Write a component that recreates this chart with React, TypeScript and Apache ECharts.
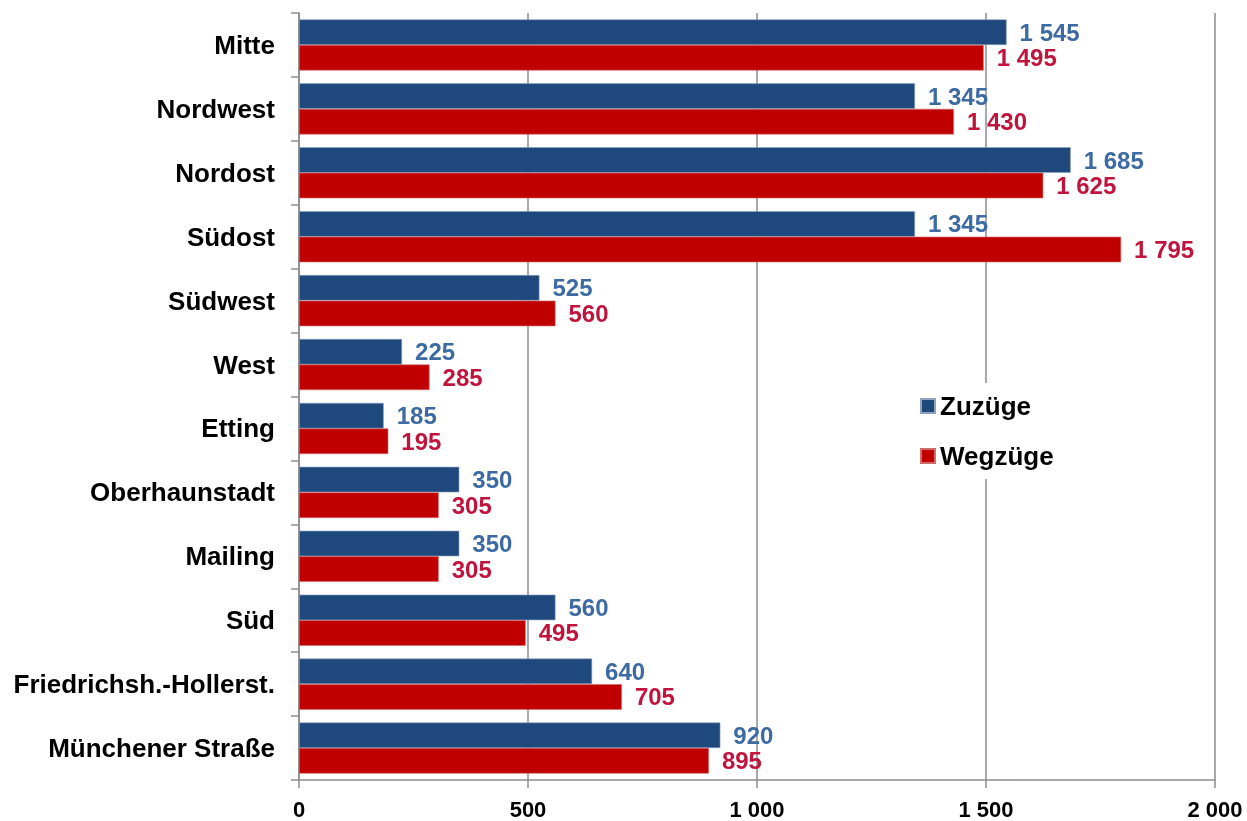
import React, { useEffect, useRef } from "react";
import * as echarts from "echarts";

const categories = [
  "Mitte",
  "Nordwest",
  "Nordost",
  "Südost",
  "Südwest",
  "West",
  "Etting",
  "Oberhaunstadt",
  "Mailing",
  "Süd",
  "Friedrichsh.-Hollerst.",
  "Münchener Straße",
];
const zuzuege = [1545, 1345, 1685, 1345, 525, 225, 185, 350, 350, 560, 640, 920];
const wegzuege = [1495, 1430, 1625, 1795, 560, 285, 195, 305, 305, 495, 705, 895];
const xTicks = [0, 500, 1000, 1500, 2000];

const fmt = (v: number) => {
  const s = String(Math.round(v));
  return s.replace(/\B(?=(\d{3})+(?!\d))/g, " ");
};

const FONT = "'Liberation Sans', Arial, sans-serif";

export default function App() {
  const ref = useRef<HTMLDivElement>(null);
  useEffect(() => {
    if (!ref.current) return;
    const chart = echarts.init(ref.current, null, { renderer: "svg" });
    chart.setOption({
      animation: false,
      textStyle: { fontFamily: FONT },
      grid: { left: 299, right: 32, top: 13, bottom: 41, containLabel: false },
      legend: {
        orient: "vertical",
        left: 906,
        top: 383,
        itemWidth: 14,
        itemHeight: 14,
        itemGap: 24,
        icon: "rect",
        backgroundColor: "#ffffff",
        padding: [10, 30, 10, 14],
        textStyle: { fontFamily: FONT, fontWeight: "bold", fontSize: 26, color: "#000" },
        data: ["Zuzüge", "Wegzüge"],
      },
      xAxis: {
        type: "value",
        min: xTicks[0],
        max: xTicks[xTicks.length - 1],
        interval: 500,
        axisLine: { show: true, lineStyle: { color: "#8c8c8c", width: 1.5 } },
        axisTick: { show: true, length: 8, lineStyle: { color: "#8c8c8c", width: 1.5 } },
        splitLine: { show: true, lineStyle: { color: "#8c8c8c", width: 1.5 } },
        axisLabel: {
          formatter: (v: number) => fmt(v),
          fontFamily: FONT,
          fontWeight: "bold",
          fontSize: 22,
          color: "#000",
          margin: 18,
        },
      },
      yAxis: {
        type: "category",
        data: categories,
        inverse: true,
        axisLine: { show: true, lineStyle: { color: "#8c8c8c", width: 1.5 } },
        axisTick: { show: true, length: 8, inside: false, lineStyle: { color: "#8c8c8c", width: 1.5 } },
        axisLabel: {
          fontFamily: FONT,
          fontWeight: "bold",
          fontSize: 26,
          color: "#000",
          margin: 24,
        },
      },
      series: [
        {
          name: "Zuzüge",
          type: "bar",
          data: zuzuege,
          barGap: "0%",
          barCategoryGap: "20%",
          itemStyle: { color: "#1F497D", borderColor: "#8fa3bf", borderWidth: 0.6 },
          label: {
            show: true,
            position: "right",
            distance: 13,
            formatter: (p: any) => fmt(p.value),
            fontFamily: FONT,
            fontWeight: "bold",
            fontSize: 24,
            color: "#3D6AA2",
          },
        },
        {
          name: "Wegzüge",
          type: "bar",
          data: wegzuege,
          barGap: "0%",
          barCategoryGap: "20%",
          itemStyle: { color: "#C00000", borderColor: "#d46a6a", borderWidth: 0.6 },
          label: {
            show: true,
            position: "right",
            distance: 13,
            formatter: (p: any) => fmt(p.value),
            fontFamily: FONT,
            fontWeight: "bold",
            fontSize: 24,
            color: "#C0143C",
          },
        },
      ],
    });
    return () => chart.dispose();
  }, []);
  return (
    <div
      ref={ref}
      style={{ position: "fixed", left: 0, top: 0, width: 1247, height: 821 }}
    />
  );
}
